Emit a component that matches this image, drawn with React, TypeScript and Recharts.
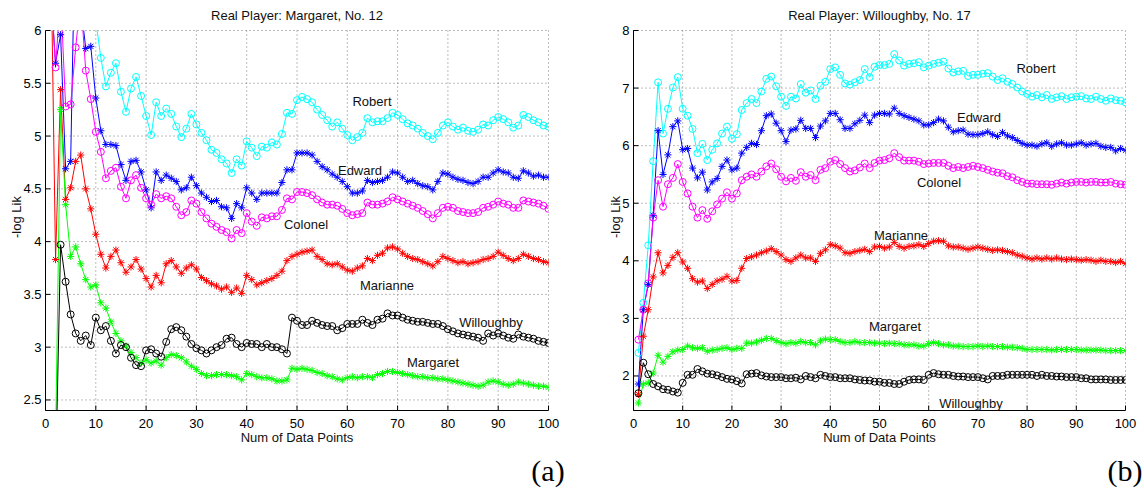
import React from "react";
import { LineChart, Line, XAxis, YAxis, CartesianGrid } from "recharts";

// x positions: number of data points seen so far
const points = Array.from({ length: 100 }, (_, i) => i + 1);
const xTicks = [0, 10, 20, 30, 40, 50, 60, 70, 80, 90, 100];

// ---------- panel (a): Real Player: Margaret, No. 12 ----------
const aTicks = [2.5, 3, 3.5, 4, 4.5, 5, 5.5, 6];

const aRobert = [
  null, null, null, null, null, null, null, null, null, 6.1,
  5.74, 5.47, 5.6, 5.69, 5.42, 5.23, 5.45, 5.56, 5.38, 5.19,
  5.01, 5.32, 5.19, 5.26, 5.21, 5.09, 4.99, 5.07, 5.21, 5.11,
  5.03, 4.96, 4.87, 4.84, 4.78, 4.74, 4.65, 4.78, 4.72, 4.95,
  4.89, 4.81, 4.9, 4.89, 4.94, 4.92, 5.02, 5.22, 5.21, 5.34,
  5.37, 5.35, 5.32, 5.25, 5.2, 5.15, 5.09, 5.13, 5.07, 5.01,
  4.96, 4.99, 5.03, 5.17, 5.13, 5.14, 5.14, 5.17, 5.22, 5.2,
  5.16, 5.12, 5.1, 5.07, 5.03, 5.0, 4.97, 5.03, 5.1, 5.13,
  5.09, 5.06, 5.08, 5.05, 5.04, 5.06, 5.11, 5.1, 5.15, 5.18,
  5.16, 5.13, 5.08, 5.1, 5.2, 5.18, 5.15, 5.13, 5.1, 5.09,
];
const aEdward = [
  6.4, 5.69, 5.96, 4.69, 4.76, 7.24, 6.25, 5.83, 5.85, 5.36,
  5.05, 4.92, 4.92, 4.91, 4.73, 4.58, 4.76, 4.77, 4.66, 4.49,
  4.32, 4.66, 4.58, 4.63, 4.6, 4.57, 4.49, 4.51, 4.61, 4.53,
  4.46, 4.42, 4.38, 4.39, 4.33, 4.32, 4.22, 4.36, 4.32, 4.51,
  4.46, 4.4, 4.46, 4.46, 4.46, 4.46, 4.56, 4.68, 4.68, 4.84,
  4.84, 4.84, 4.82, 4.76, 4.71, 4.68, 4.64, 4.61, 4.57, 4.52,
  4.46, 4.46, 4.48, 4.58, 4.56, 4.57, 4.58, 4.61, 4.66, 4.65,
  4.61, 4.57, 4.58, 4.55, 4.53, 4.52, 4.49, 4.57, 4.65, 4.64,
  4.61, 4.59, 4.58, 4.56, 4.55, 4.57, 4.61, 4.61, 4.65, 4.68,
  4.66, 4.65, 4.61, 4.6, 4.67, 4.65, 4.62, 4.63, 4.61, 4.61,
];
const aColonel = [
  6.5, 5.65, 6.35, 5.28, 5.3, 5.84, 6.3, 5.62, 5.35, 5.04,
  4.85, 4.6, 4.67, 4.7, 4.52, 4.41, 4.58, 4.63, 4.51, 4.41,
  4.35, 4.45, 4.41, 4.43, 4.41, 4.33, 4.25, 4.28, 4.39, 4.36,
  4.28, 4.22, 4.17, 4.14, 4.11, 4.09, 4.03, 4.11, 4.08, 4.27,
  4.19, 4.15, 4.23, 4.22, 4.24, 4.24, 4.3, 4.41, 4.4, 4.47,
  4.47, 4.46, 4.44, 4.4, 4.37, 4.35, 4.35, 4.34, 4.31, 4.27,
  4.25, 4.26, 4.27, 4.37, 4.35, 4.35, 4.36, 4.38, 4.42, 4.4,
  4.38, 4.36, 4.34, 4.32, 4.29, 4.26, 4.22, 4.27, 4.32, 4.33,
  4.32, 4.29, 4.28, 4.27, 4.27, 4.28, 4.32, 4.33, 4.35, 4.38,
  4.36, 4.35, 4.32, 4.32, 4.39, 4.38, 4.37, 4.36, 4.34, 4.31,
];
const aMarianne = [
  7.0, 3.83, 5.44, 4.4, 4.51, 4.76, 4.82, 4.5, 4.31, 4.07,
  3.88, 3.75, 3.86, 3.92, 3.8, 3.71, 3.76, 3.83, 3.74, 3.65,
  3.57, 3.68, 3.61, 3.79, 3.82, 3.76, 3.7, 3.75, 3.78, 3.74,
  3.66, 3.63, 3.6, 3.58, 3.55, 3.57, 3.52, 3.56, 3.51, 3.68,
  3.64, 3.59, 3.61, 3.63, 3.65, 3.68, 3.72, 3.82, 3.86, 3.88,
  3.9, 3.91, 3.92, 3.86, 3.83, 3.79, 3.78, 3.79, 3.76, 3.73,
  3.72, 3.75, 3.77, 3.84, 3.82, 3.87, 3.89, 3.94, 3.95, 3.93,
  3.89, 3.86, 3.84, 3.83, 3.81, 3.79, 3.77, 3.81, 3.86, 3.84,
  3.82, 3.8, 3.81, 3.79, 3.8, 3.81, 3.83, 3.84, 3.86, 3.9,
  3.87, 3.84, 3.82, 3.84, 3.88, 3.86, 3.84, 3.83, 3.81, 3.8,
];
const aWilloughby = [
  1.7, 1.75, 3.97, 3.62, 3.31, 3.13, 3.06, 3.11, 3.02, 3.28,
  3.16, 3.2, 3.06, 2.94, 3.02, 3.0, 2.9, 2.83, 2.82, 2.97,
  2.98, 2.94, 2.91, 3.05, 3.17, 3.19, 3.16, 3.1, 3.03, 2.99,
  2.97, 2.94, 2.97, 3.0, 3.02, 3.08, 3.09, 3.03, 3.0, 3.04,
  3.03, 3.03, 3.0, 3.03, 3.0, 3.0, 2.98, 2.94, 3.28, 3.25,
  3.21, 3.21, 3.25, 3.23, 3.21, 3.2, 3.2, 3.16, 3.18, 3.22,
  3.22, 3.22, 3.26, 3.23, 3.21, 3.26, 3.27, 3.32, 3.3, 3.3,
  3.28, 3.26, 3.25, 3.24, 3.24, 3.23, 3.22, 3.22, 3.2, 3.17,
  3.15, 3.13, 3.12, 3.11, 3.1, 3.09, 3.06, 3.13, 3.11, 3.13,
  3.11, 3.09, 3.08, 3.12, 3.1, 3.09, 3.08, 3.06, 3.05, 3.04,
];
const aMargaret = [
  1.6, 2.1, 5.25, 4.35, 3.86, 3.95, 3.79, 3.64, 3.57, 3.59,
  3.42, 3.37, 3.24, 3.13, 3.06, 3.01, 2.95, 2.9, 2.85, 2.88,
  2.85, 2.87, 2.83, 2.9, 2.93, 2.92, 2.9, 2.86, 2.82, 2.79,
  2.75, 2.73, 2.73, 2.74, 2.74, 2.74, 2.73, 2.72, 2.69, 2.75,
  2.74, 2.72, 2.71, 2.71, 2.7, 2.68, 2.68, 2.69, 2.8, 2.79,
  2.8, 2.79, 2.78, 2.76, 2.75, 2.73, 2.72, 2.7, 2.69, 2.71,
  2.72, 2.71, 2.72, 2.72, 2.71, 2.74, 2.75, 2.77, 2.77, 2.76,
  2.75, 2.74, 2.73, 2.72, 2.72, 2.71, 2.71, 2.7, 2.7, 2.69,
  2.68, 2.67, 2.66, 2.65, 2.64, 2.63, 2.64, 2.67, 2.68, 2.67,
  2.65, 2.64, 2.65, 2.67, 2.66, 2.65, 2.64, 2.63, 2.63, 2.62,
];

// ---------- panel (b): Real Player: Willoughby, No. 17 ----------
const bTicks = [2, 3, 4, 5, 6, 7, 8];

const bRobert = [
  2.4, 3.27, 4.27, 5.73, 7.1, 6.21, 6.64, 7.01, 7.19, 6.64,
  6.52, 6.29, 5.87, 6.03, 5.75, 5.93, 6.04, 6.21, 6.33, 6.12,
  6.2, 6.62, 6.74, 6.81, 6.74, 6.94, 7.16, 7.2, 7.03, 6.85,
  6.69, 6.85, 6.82, 7.07, 6.92, 6.96, 6.81, 7.04, 7.11, 7.33,
  7.36, 7.23, 7.08, 7.06, 7.1, 7.14, 7.33, 7.19, 7.37, 7.4,
  7.4, 7.42, 7.59, 7.48, 7.39, 7.42, 7.43, 7.45, 7.36, 7.39,
  7.42, 7.44, 7.46, 7.34, 7.27, 7.29, 7.3, 7.21, 7.23, 7.23,
  7.25, 7.26, 7.2, 7.14, 7.17, 7.11, 7.07, 7.01, 6.94, 6.9,
  6.85, 6.88, 6.84, 6.88, 6.81, 6.84, 6.86, 6.81, 6.84, 6.85,
  6.86, 6.82, 6.81, 6.85, 6.81, 6.78, 6.82, 6.79, 6.78, 6.75,
];
const bEdward = [
  1.86, 3.15, 3.59, 4.79, 6.26, 5.5, 5.84, 6.33, 6.43, 5.93,
  5.95, 5.61, 5.44, 5.54, 5.23, 5.37, 5.43, 5.64, 5.75, 5.58,
  5.61, 5.87, 5.97, 6.04, 6.02, 6.26, 6.52, 6.55, 6.39, 6.26,
  6.07, 6.27, 6.29, 6.44, 6.3, 6.3, 6.14, 6.34, 6.43, 6.56,
  6.56, 6.45, 6.3, 6.3, 6.38, 6.44, 6.53, 6.4, 6.53, 6.56,
  6.56, 6.55, 6.65, 6.56, 6.52, 6.49, 6.46, 6.43, 6.36, 6.36,
  6.4, 6.46, 6.43, 6.32, 6.24, 6.26, 6.27, 6.2, 6.19, 6.19,
  6.21, 6.24, 6.19, 6.16, 6.23, 6.17, 6.14, 6.09, 6.04, 6.01,
  6.01, 5.99, 6.03, 6.05, 5.99, 6.03, 6.05, 6.01, 6.01, 6.03,
  6.05, 6.01, 6.03, 6.04, 5.99, 5.97, 5.97, 5.91, 5.95, 5.92,
];
const bColonel = [
  2.63, 3.15, 3.61, 4.75, 5.4, 4.94, 5.33, 5.44, 5.68, 5.37,
  5.17, 4.94, 4.75, 4.88, 4.73, 4.86, 4.98, 5.08, 5.19, 5.08,
  5.17, 5.4, 5.46, 5.5, 5.46, 5.55, 5.64, 5.69, 5.59, 5.46,
  5.38, 5.44, 5.39, 5.54, 5.46, 5.49, 5.4, 5.58, 5.61, 5.72,
  5.75, 5.68, 5.61, 5.55, 5.57, 5.62, 5.69, 5.61, 5.7, 5.74,
  5.75, 5.78, 5.87, 5.8, 5.74, 5.74, 5.74, 5.72, 5.68, 5.69,
  5.7, 5.7, 5.7, 5.65, 5.61, 5.63, 5.61, 5.63, 5.65, 5.63,
  5.61, 5.58, 5.55, 5.53, 5.52, 5.47, 5.45, 5.4, 5.37, 5.34,
  5.34, 5.33, 5.33, 5.33, 5.32, 5.34, 5.36, 5.34, 5.36, 5.37,
  5.37, 5.36, 5.37, 5.37, 5.36, 5.36, 5.37, 5.34, 5.33, 5.32,
];
const bMarianne = [
  1.68, 2.69, 3.15, 3.72, 4.14, 3.79, 3.92, 4.06, 4.14, 3.98,
  3.87, 3.69, 3.63, 3.65, 3.52, 3.59, 3.65, 3.68, 3.73, 3.65,
  3.66, 3.87, 4.04, 4.07, 4.1, 4.14, 4.17, 4.21, 4.16, 4.1,
  4.02, 3.99, 4.05, 4.1, 4.05, 4.05, 3.99, 4.13, 4.19, 4.28,
  4.26, 4.22, 4.14, 4.13, 4.16, 4.18, 4.2, 4.16, 4.24, 4.25,
  4.22, 4.24, 4.32, 4.25, 4.22, 4.25, 4.26, 4.28, 4.25, 4.3,
  4.34, 4.35, 4.34, 4.26, 4.24, 4.24, 4.22, 4.2, 4.22, 4.24,
  4.22, 4.2, 4.18, 4.19, 4.18, 4.16, 4.14, 4.1, 4.08, 4.05,
  4.03, 4.05, 4.03, 4.05, 4.03, 4.05, 4.03, 4.02, 4.03, 4.02,
  4.01, 4.02, 4.01, 3.99, 4.01, 3.99, 3.99, 3.97, 3.99, 3.95,
];
const bMargaret = [
  1.53, 1.86, 1.88, 2.05, 2.36, 2.24, 2.34, 2.42, 2.45, 2.46,
  2.52, 2.49, 2.48, 2.49, 2.43, 2.45, 2.46, 2.48, 2.49, 2.46,
  2.48, 2.48, 2.57, 2.57, 2.59, 2.62, 2.65, 2.65, 2.61, 2.58,
  2.56, 2.58, 2.57, 2.6, 2.58, 2.58, 2.54, 2.61, 2.64, 2.63,
  2.63, 2.6, 2.58, 2.58, 2.6, 2.58, 2.58, 2.58, 2.57, 2.57,
  2.56, 2.57, 2.56, 2.56, 2.54, 2.54, 2.54, 2.52, 2.52, 2.56,
  2.58, 2.56, 2.54, 2.54, 2.52, 2.52, 2.51, 2.51, 2.51, 2.52,
  2.51, 2.52, 2.51, 2.51, 2.51, 2.5, 2.5, 2.49, 2.48, 2.46,
  2.46, 2.46, 2.46, 2.46, 2.45, 2.46, 2.46, 2.46, 2.46, 2.46,
  2.45, 2.45, 2.45, 2.45, 2.45, 2.44, 2.44, 2.44, 2.44, 2.44,
];
const bWilloughby = [
  1.7, 2.23, 2.03, 1.86, 1.82, 1.77, 1.76, 1.73, 1.71, 1.88,
  2.02, 2.02, 2.12, 2.08, 2.04, 2.03, 2.01, 1.98, 1.95, 1.94,
  1.91, 1.87, 2.03, 2.04, 2.05, 2.01, 1.99, 1.98, 1.98, 1.98,
  1.96, 1.96, 1.97, 1.94, 2.0, 1.98, 1.96, 2.02, 2.0, 1.98,
  1.98, 1.96, 1.96, 1.96, 1.94, 1.93, 1.92, 1.92, 1.9, 1.9,
  1.88, 1.88, 1.86, 1.86, 1.9, 1.93, 1.94, 1.94, 1.93, 2.02,
  2.05, 2.03, 2.02, 2.02, 2.0, 1.99, 1.99, 1.98, 1.98, 1.98,
  1.96, 1.94, 2.0, 2.0, 2.0, 2.02, 2.02, 2.02, 2.02, 2.02,
  2.02, 2.0, 2.02, 2.0, 2.0, 1.99, 1.99, 1.98, 1.98, 1.98,
  1.96, 1.96, 1.94, 1.94, 1.94, 1.94, 1.93, 1.93, 1.93, 1.93,
];

type Marker = "o" | "*";
type Series = { key: string; color: string; marker: Marker; values: (number | null)[] };
type TextLabel = { text: string; x: number; y: number };

const FONT = '"Liberation Sans", Arial, Helvetica, sans-serif';
const PLOT_TOP = 30.5;
const PLOT_BOTTOM = 410.5;
const CHART_H = 450;

function makeDot(color: string, marker: Marker) {
  return (props: any) => {
    const { cx, cy, index, value } = props;
    if (cx == null || cy == null || value == null) return <g key={`e-${index}`} />;
    if (marker === "o") {
      return <circle key={`o-${index}`} cx={cx} cy={cy} r={3.5} fill="none" stroke={color} strokeWidth={1} />;
    }
    const s = 3.6;
    const d = 2.6;
    return (
      <g key={`s-${index}`} stroke={color} strokeWidth={1}>
        <line x1={cx - s} y1={cy} x2={cx + s} y2={cy} />
        <line x1={cx} y1={cy - s} x2={cx} y2={cy + s} />
        <line x1={cx - d} y1={cy - d} x2={cx + d} y2={cy + d} />
        <line x1={cx - d} y1={cy + d} x2={cx + d} y2={cy - d} />
      </g>
    );
  };
}

const bottomTick = (p: any) => (
  <g>
    <line x1={p.x} y1={p.y} x2={p.x} y2={p.y - 5} stroke="#000" />
    <text x={p.x} y={p.y + 17} textAnchor="middle" fontSize={13} fontFamily={FONT} fill="#000">
      {p.payload.value}
    </text>
  </g>
);
const topTick = (p: any) => <line x1={p.x} y1={p.y} x2={p.x} y2={p.y + 5} stroke="#000" />;
const leftTick = (p: any) => (
  <g>
    <line x1={p.x} y1={p.y} x2={p.x + 5} y2={p.y} stroke="#000" />
    <text x={p.x - 4} y={p.y + 4.5} textAnchor="end" fontSize={13} fontFamily={FONT} fill="#000">
      {p.payload.value}
    </text>
  </g>
);
const rightTick = (p: any) => <line x1={p.x} y1={p.y} x2={p.x - 5} y2={p.y} stroke="#000" />;

function Panel(props: {
  left: number;
  width: number;
  plotLeft: number;
  plotRight: number;
  yLabelGap: number;
  title: string;
  domain: [number, number];
  yTicks: number[];
  series: Series[];
  labels: TextLabel[];
}) {
  const { left, width, plotLeft, plotRight, yLabelGap, title, domain, yTicks, series, labels } = props;
  const rows = points.map((n, i) => {
    const row: Record<string, number | null> = { n };
    series.forEach((s) => {
      row[s.key] = s.values[i];
    });
    return row;
  });
  const plotW = plotRight - plotLeft;
  const txt: React.CSSProperties = {
    position: "absolute",
    fontFamily: FONT,
    fontSize: 13,
    lineHeight: 1,
    whiteSpace: "nowrap",
    color: "#111",
    transform: "translate(-50%, -50%)",
  };
  return (
    <div style={{ position: "absolute", left, top: 0, width, height: CHART_H }}>
      <LineChart
        width={width}
        height={CHART_H}
        data={rows}
        margin={{ top: PLOT_TOP, right: width - plotRight, left: 0, bottom: 0 }}
      >
        <CartesianGrid xAxisId="bottom" yAxisId="left" stroke="#7a7a7a" strokeDasharray="1 3" />
        <XAxis
          xAxisId="bottom"
          dataKey="n"
          type="number"
          domain={[0, 100]}
          ticks={xTicks}
          interval={0}
          allowDataOverflow
          height={CHART_H - PLOT_BOTTOM}
          tickSize={0}
          tickMargin={0}
          tickLine={false}
          axisLine={{ stroke: "#000" }}
          tick={bottomTick}
        />
        <XAxis
          xAxisId="top"
          orientation="top"
          type="number"
          domain={[0, 100]}
          ticks={xTicks}
          interval={0}
          allowDataOverflow
          height={0}
          tickSize={0}
          tickMargin={0}
          tickLine={false}
          axisLine={{ stroke: "#000" }}
          tick={topTick}
        />
        <YAxis
          yAxisId="left"
          type="number"
          domain={domain}
          ticks={yTicks}
          interval={0}
          allowDataOverflow
          width={plotLeft}
          tickSize={0}
          tickMargin={0}
          tickLine={false}
          axisLine={{ stroke: "#000" }}
          tick={leftTick}
        />
        <YAxis
          yAxisId="right"
          orientation="right"
          type="number"
          domain={domain}
          ticks={yTicks}
          interval={0}
          allowDataOverflow
          width={0}
          tickSize={0}
          tickMargin={0}
          tickLine={false}
          axisLine={{ stroke: "#000" }}
          tick={rightTick}
        />
        {series.map((s) => (
          <Line
            key={s.key}
            xAxisId="bottom"
            yAxisId="left"
            type="linear"
            dataKey={s.key}
            stroke={s.color}
            strokeWidth={1}
            dot={makeDot(s.color, s.marker)}
            activeDot={false}
            connectNulls={false}
            isAnimationActive={false}
          />
        ))}
      </LineChart>
      <div style={{ ...txt, left: plotLeft + plotW / 2, top: 15 }}>{title}</div>
      <div style={{ ...txt, left: plotLeft + plotW / 2, top: 437 }}>Num of Data Points</div>
      <div
        style={{
          ...txt,
          left: plotLeft - yLabelGap,
          top: 217,
          transform: "translate(-50%, -50%) rotate(-90deg)",
        }}
      >
        -log Lik
      </div>
      {labels.map((l) => (
        <div key={l.text} style={{ ...txt, left: l.x - left, top: l.y }}>
          {l.text}
        </div>
      ))}
    </div>
  );
}

const aSeries: Series[] = [
  { key: "robert", color: "#00ffff", marker: "o", values: aRobert },
  { key: "edward", color: "#0000ff", marker: "*", values: aEdward },
  { key: "colonel", color: "#ff00ff", marker: "o", values: aColonel },
  { key: "marianne", color: "#ff0000", marker: "*", values: aMarianne },
  { key: "margaret", color: "#00ff00", marker: "*", values: aMargaret },
  { key: "willoughby", color: "#000000", marker: "o", values: aWilloughby },
];
const bSeries: Series[] = [
  { key: "robert", color: "#00ffff", marker: "o", values: bRobert },
  { key: "edward", color: "#0000ff", marker: "*", values: bEdward },
  { key: "colonel", color: "#ff00ff", marker: "o", values: bColonel },
  { key: "marianne", color: "#ff0000", marker: "*", values: bMarianne },
  { key: "margaret", color: "#00ff00", marker: "*", values: bMargaret },
  { key: "willoughby", color: "#000000", marker: "o", values: bWilloughby },
];

const aLabels: TextLabel[] = [
  { text: "Robert", x: 372, y: 101 },
  { text: "Edward", x: 360, y: 170 },
  { text: "Colonel", x: 306, y: 224 },
  { text: "Marianne", x: 387, y: 285 },
  { text: "Willoughby", x: 491, y: 322 },
  { text: "Margaret", x: 433, y: 362 },
];
const bLabels: TextLabel[] = [
  { text: "Robert", x: 1036, y: 68 },
  { text: "Edward", x: 979, y: 117 },
  { text: "Colonel", x: 939, y: 182 },
  { text: "Marianne", x: 901, y: 235 },
  { text: "Margaret", x: 895, y: 326 },
  { text: "Willoughby", x: 971, y: 403 },
];

export default function App() {
  const tag: React.CSSProperties = {
    position: "absolute",
    fontFamily: '"Liberation Serif", "Times New Roman", serif',
    fontSize: 30,
    lineHeight: 1,
    whiteSpace: "nowrap",
    transform: "translate(-50%, -50%)",
  };
  return (
    <div style={{ position: "absolute", left: 0, top: 0, width: 1144, height: 489, overflow: "hidden", background: "#fff" }}>
      <Panel
        left={0}
        width={560}
        plotLeft={45.5}
        plotRight={548.5}
        yLabelGap={30}
        title="Real Player: Margaret, No. 12"
        domain={[2.4, 6]}
        yTicks={aTicks}
        series={aSeries}
        labels={aLabels}
      />
      <Panel
        left={590}
        width={554}
        plotLeft={43.5}
        plotRight={535.5}
        yLabelGap={19}
        title="Real Player: Willoughby, No. 17"
        domain={[1.4, 8]}
        yTicks={bTicks}
        series={bSeries}
        labels={bLabels}
      />
      <div style={{ ...tag, left: 548, top: 471 }}>(a)</div>
      <div style={{ ...tag, left: 1125, top: 471 }}>(b)</div>
    </div>
  );
}
